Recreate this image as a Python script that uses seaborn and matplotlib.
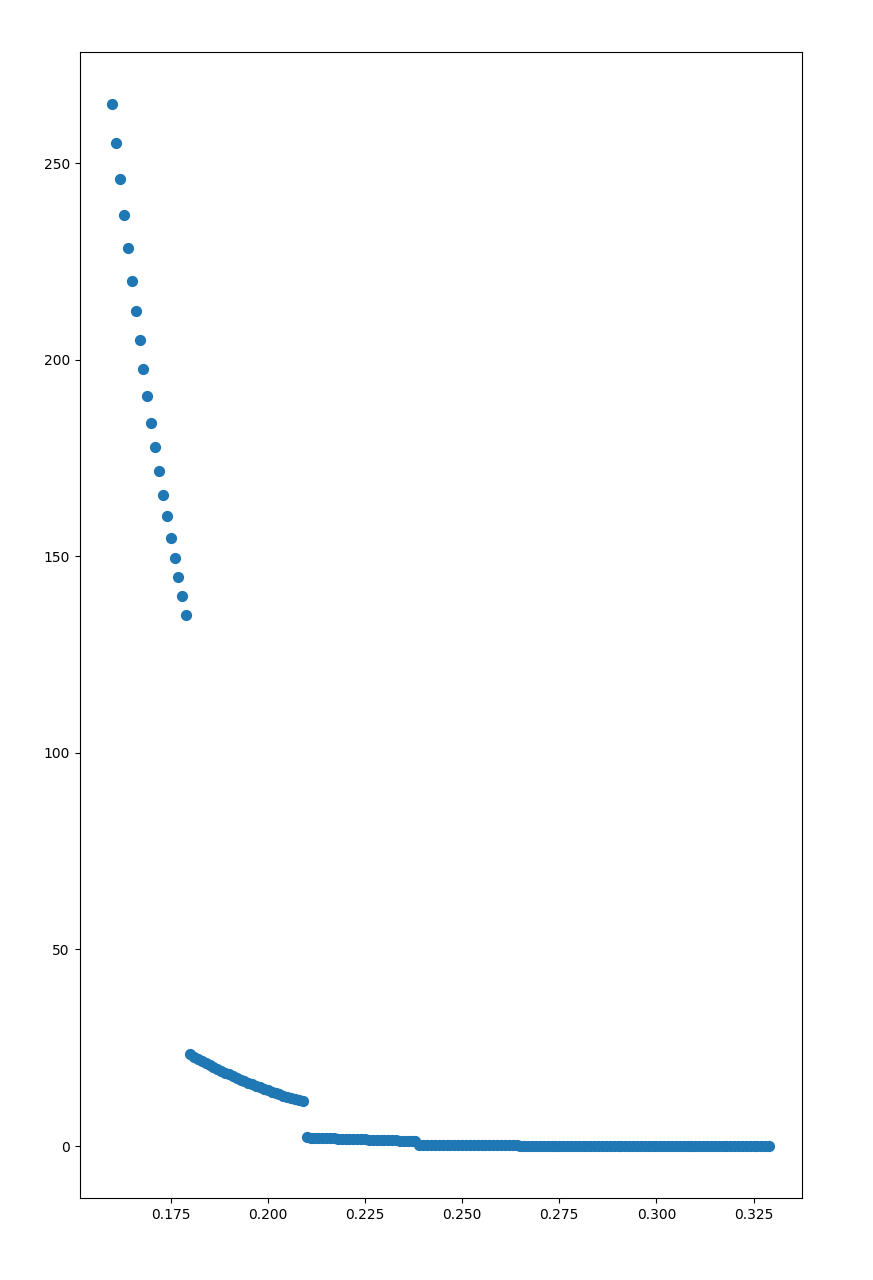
import numpy as np
import matplotlib
matplotlib.use("Agg")
import matplotlib.pyplot as plt
import seaborn as sns

# x grid: 0.160 .. 0.329 step 0.001
x_vals = np.round(np.arange(160, 330) / 1000.0, 3)

seg1 = [265.0, 255.2, 245.9, 236.9, 228.4, 220.1, 212.3, 204.9, 197.6, 190.7,
        184.0, 177.7, 171.6, 165.7, 160.2, 154.7, 149.6, 144.7, 139.8, 135.0]
seg2 = [23.3, 22.74, 22.20, 21.67, 21.15, 20.64, 20.14, 19.65, 19.17, 18.70,
        18.24, 17.79, 17.35, 16.92, 16.50, 16.09, 15.69, 15.30, 14.92, 14.55,
        14.19, 13.84, 13.50, 13.17, 12.85, 12.54, 12.24, 11.95, 11.67, 11.40]
seg3 = [2.20, 2.16, 2.12, 2.08, 2.04, 2.00, 1.97, 1.93, 1.90, 1.86,
        1.83, 1.80, 1.76, 1.73, 1.70, 1.67, 1.64, 1.61, 1.58, 1.55,
        1.52, 1.49, 1.46, 1.44, 1.41, 1.38, 1.36, 1.33, 1.30]
seg4 = [0.36, 0.355, 0.35, 0.345, 0.34, 0.335, 0.33, 0.325, 0.32, 0.315,
        0.31, 0.305, 0.30, 0.295, 0.29, 0.285, 0.28, 0.275, 0.27, 0.265,
        0.26, 0.255, 0.25, 0.245, 0.24, 0.235]
seg5 = [0.10, 0.099, 0.098, 0.097, 0.096, 0.095, 0.094, 0.093, 0.092, 0.091,
        0.090, 0.089, 0.088, 0.087, 0.086, 0.085, 0.084, 0.083, 0.082, 0.081,
        0.080, 0.079, 0.078, 0.077, 0.076, 0.075, 0.074, 0.073, 0.072, 0.071,
        0.070, 0.069, 0.068, 0.067, 0.066, 0.065, 0.064, 0.063, 0.062, 0.061,
        0.060, 0.059, 0.058, 0.057, 0.056, 0.055, 0.054, 0.053, 0.052, 0.051,
        0.050, 0.049, 0.048, 0.047, 0.046, 0.045, 0.044, 0.043, 0.042, 0.041,
        0.040, 0.039, 0.038, 0.037, 0.036]

y_vals = np.array(seg1 + seg2 + seg3 + seg4 + seg5)

fig = plt.figure(figsize=(8.73, 12.8), dpi=100)
ax = fig.add_axes([79.5 / 873, (1280 - 1198) / 1280, (802 - 79.5) / 873, (1198 - 52) / 1280])
sns.scatterplot(x=x_vals, y=y_vals, ax=ax, s=50, color="#1f77b4",
                edgecolor="#1f77b4", linewidth=1)
fig.savefig("out.png", dpi=100)
